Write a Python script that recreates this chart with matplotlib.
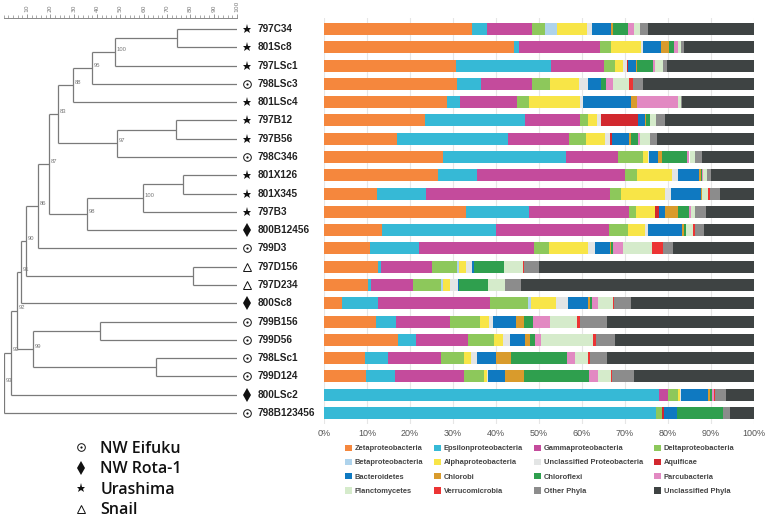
import matplotlib
matplotlib.use("Agg")
import matplotlib.pyplot as plt
from matplotlib.lines import Line2D
from matplotlib.patches import Patch
from matplotlib.legend_handler import HandlerTuple
import numpy as np

# samples, top to bottom (dendrogram leaf order)
samples = ["797C34", "801Sc8", "797LSc1", "798LSc3", "801LSc4", "797B12", "797B56",
           "798C346", "801X126", "801X345", "797B3", "800B12456", "799D3", "797D156",
           "797D234", "800Sc8", "799B156", "799D56", "798LSc1", "799D124", "800LSc2",
           "798B123456"]
sites = ["Urashima", "Urashima", "Urashima", "NW Eifuku", "Urashima", "Urashima", "Urashima",
         "NW Eifuku", "Urashima", "Urashima", "Urashima", "NW Rota-1", "NW Eifuku", "Snail",
         "Snail", "NW Rota-1", "NW Eifuku", "NW Eifuku", "NW Eifuku", "NW Eifuku", "NW Rota-1",
         "NW Eifuku"]
site_order = ["NW Eifuku", "NW Rota-1", "Urashima", "Snail"]

# relative abundance (%) per taxon, one value per sample
taxa = ["Zetaproteobacteria", "Epsilonproteobacteria", "Gammaproteobacteria", "Deltaproteobacteria",
        "Betaproteobacteria", "Alphaproteobacteria", "Unclassified Proteobacteria", "Aquificae",
        "Bacteroidetes", "Chlorobi", "Chloroflexi", "Parcubacteria",
        "Planctomycetes", "Verrucomicrobia", "Other Phyla", "Unclassified Phyla"]
zeta = [34.5, 44.3, 30.7, 31.0, 28.5, 23.5, 16.9, 27.7, 26.6, 12.3, 33.0, 13.4, 10.7, 12.5, 10.3, 4.1, 12.0, 17.3, 9.5, 9.7, 0, 0]
epsilon = [3.3, 1.1, 22.0, 5.5, 3.1, 23.3, 26.0, 28.5, 8.9, 11.5, 14.6, 26.5, 11.4, 0.8, 0.6, 8.5, 4.7, 4.1, 5.4, 6.8, 77.9, 77.1]
gamma = [10.5, 18.7, 12.4, 11.8, 13.3, 12.8, 14.0, 12.2, 34.5, 42.6, 23.4, 26.3, 26.7, 11.8, 9.8, 26.0, 12.6, 12.2, 12.4, 16.0, 2.2, 0]
delta = [3.1, 2.7, 2.6, 4.3, 2.7, 1.9, 4.0, 5.7, 2.9, 2.7, 1.6, 4.5, 3.6, 5.8, 6.6, 8.9, 7.0, 6.0, 5.2, 4.7, 2.3, 1.4]
beta = [2.9, 0, 0, 0, 0, 0, 0, 0, 0, 0, 0, 0, 0, 0.5, 0.4, 0.6, 0, 0, 0, 0, 0, 0]
alpha = [6.8, 6.9, 1.9, 6.6, 12.0, 2.1, 4.5, 1.3, 8.1, 10.3, 4.3, 3.9, 9.1, 1.6, 1.7, 5.9, 2.1, 2.0, 1.8, 0.6, 0.4, 0]
uncl_proteo = [1.2, 0.4, 0.9, 2.1, 0.6, 0.9, 1.0, 0.2, 1.4, 1.2, 0, 0.8, 1.6, 1.4, 1.7, 2.7, 0.8, 1.7, 1.3, 0.4, 0.3, 0]
aquificae = [0, 0, 0.2, 0, 0, 8.5, 0.6, 0, 0, 0, 0.9, 0, 0, 0, 0, 0, 0, 0, 0, 0, 0, 0.5]
bacteroidetes = [4.5, 4.3, 1.8, 3.1, 11.1, 1.7, 4.0, 2.0, 4.9, 7.0, 1.6, 7.9, 3.5, 0.4, 0.3, 4.8, 5.4, 3.5, 4.3, 4.0, 6.3, 3.2]
chlorobi = [0.4, 1.9, 0.4, 0, 1.5, 0.2, 0.5, 0.9, 0.3, 0.3, 3.0, 0.4, 0.2, 0, 0, 0.3, 1.8, 1.0, 3.7, 4.3, 0.3, 0]
chloroflexi = [3.6, 1.2, 3.6, 1.2, 0, 1.0, 1.5, 6.0, 0.3, 0, 2.6, 0.4, 0.5, 7.1, 6.7, 0.6, 2.3, 1.3, 12.9, 15.2, 0.5, 10.5]
parcu = [1.2, 0.9, 0.4, 1.7, 9.5, 0, 0.6, 0.5, 0.3, 0, 0.3, 0.2, 2.3, 0, 0, 1.4, 3.9, 1.4, 1.8, 2.0, 0.4, 0]
plancto = [1.6, 0.6, 1.9, 3.7, 0.7, 1.4, 2.2, 1.2, 0.8, 1.5, 0.9, 1.5, 6.6, 4.3, 3.9, 3.3, 6.2, 12.0, 3.1, 3.0, 0, 0]
verruco = [0, 0, 0, 0.9, 0, 0, 0, 0, 0, 0.3, 0, 0.4, 2.7, 0.2, 0, 0.3, 0.8, 0.8, 0.4, 0.3, 0.3, 0]
other = [1.7, 0.8, 1.0, 2.2, 0.3, 1.9, 1.6, 1.6, 0.9, 2.3, 2.7, 2.2, 2.2, 3.5, 3.7, 3.9, 6.2, 4.4, 3.9, 5.1, 2.6, 1.7]
uncl_phyla = [24.8, 16.3, 20.1, 25.9, 16.6, 20.9, 22.6, 12.2, 10.1, 8.1, 11.2, 11.6, 18.9, 50.2, 54.4, 28.7, 34.3, 32.3, 34.3, 27.9, 6.5, 5.6]

# dendrogram merges: (child a, child b, similarity, bootstrap); leaves are 0..21, nodes 22..
merges = [
    (0, 1, 74.3, None), (22, 2, 47.7, 100), (23, 3, 37.8, 95), (24, 4, 29.7, 88),
    (5, 6, 73.9, None), (26, 7, 48.6, 97), (25, 27, 23.3, 83),
    (8, 9, 76.8, None), (29, 10, 59.7, 100), (30, 11, 35.7, 98),
    (28, 31, 19.4, 87), (32, 12, 14.7, 86), (13, 14, 81.1, None),
    (33, 34, 9.6, 90), (35, 15, 7.4, 91), (16, 17, 41.3, None), (18, 19, 65.3, None),
    (37, 38, 12.6, 99), (36, 39, 5.7, 92), (40, 20, 3.1, 92), (41, 21, 0.0, 93),
]

series = [zeta, epsilon, gamma, delta, beta, alpha, uncl_proteo, aquificae,
          bacteroidetes, chlorobi, chloroflexi, parcu, plancto, verruco, other, uncl_phyla]
colors = ["#F5873D", "#36B9D6", "#C44B9C", "#8DC85B", "#AED3EC", "#F8E547", "#E3E5E5", "#D2282E",
          "#0F79C1", "#D99B2C", "#2F9F4E", "#E289C2", "#D5EBCB", "#EC3434", "#8C8C8C", "#3E4343"]

W, H = 773, 518
fig = plt.figure(figsize=(W / 100, H / 100), dpi=100)
ylim = (21.6, -0.6)
bottom = 1 - 424 / H
height = 406 / H

# ---- stacked bars ----
ax = fig.add_axes([324 / W, bottom, 430 / W, height])
y = np.arange(len(samples))
left = np.zeros(len(samples))
for vals, c in zip(series, colors):
    vals = np.array(vals)
    ax.barh(y, vals, left=left, height=0.66, color=c, linewidth=0, zorder=2)
    left += vals
ax.set_xlim(0, 100)
ax.set_ylim(*ylim)
ax.set_xticks(np.arange(0, 101, 10))
ax.set_xticklabels([f"{v}%" for v in range(0, 101, 10)])
ax.tick_params(axis="x", length=0, pad=3.3, labelsize=6.5, labelcolor="#555555")
for lab in ax.get_xticklabels():
    lab.set_fontfamily("Liberation Sans")
ax.set_yticks([])
ax.grid(axis="x", color="#e6e6e6", linewidth=0.8, zorder=0)
for s in ax.spines.values():
    s.set_visible(False)

# ---- dendrogram ----
axd = fig.add_axes([3.7 / W, bottom, (237 - 3.7) / W, height])
axd.set_xlim(0, 100)
axd.set_ylim(*ylim)
pos_x = {i: 100.0 for i in range(len(samples))}
pos_y = {i: float(i) for i in range(len(samples))}
lc = "#7a7a7a"
for k, (a, b, sim, boot) in enumerate(merges):
    node = len(samples) + k
    for ch in (a, b):
        axd.plot([pos_x[ch], sim], [pos_y[ch], pos_y[ch]], color=lc, lw=0.9, solid_capstyle="butt")
    axd.plot([sim, sim], [pos_y[a], pos_y[b]], color=lc, lw=0.9, solid_capstyle="butt")
    pos_x[node] = sim
    pos_y[node] = (pos_y[a] + pos_y[b]) / 2
    if boot is not None:
        axd.text(sim + 0.8, pos_y[node] - 0.15, str(boot), fontsize=4.2, color="#777777",
                 ha="left", va="center", family="Liberation Sans")

axd.xaxis.tick_top()
axd.set_xticks(np.arange(10, 101, 10))
axd.set_xticks(np.arange(0, 101, 2), minor=True)
axd.tick_params(axis="x", which="major", top=True, bottom=False, labeltop=True, labelbottom=False,
                length=3, width=0.6, color="#888888", labelrotation=90, labelsize=4.3,
                labelcolor="#777777", pad=1)
axd.tick_params(axis="x", which="minor", top=True, bottom=False, length=2, width=0.5, color="#888888")
axd.set_yticks([])
for name, s in axd.spines.items():
    s.set_visible(name == "top")
axd.spines["top"].set_color("#888888")
axd.spines["top"].set_linewidth(0.7)

# site symbols and sample names
site_marker = {
    "NW Eifuku": [dict(marker="o", ms=5.5, mfc="white", mec="#111111", mew=0.7),
                  dict(marker="o", ms=1.6, mfc="#111111", mec="#111111", mew=0)],
    "NW Rota-1": [dict(marker="d", ms=7, mfc="#111111", mec="#111111", mew=0)],
    "Urashima": [dict(marker="*", ms=6.5, mfc="#111111", mec="#111111", mew=0)],
    "Snail": [dict(marker="^", ms=6, mfc="white", mec="#111111", mew=0.7)],
}
for i, (name, site) in enumerate(zip(samples, sites)):
    for st in site_marker[site]:
        axd.plot([104.3], [i], linestyle="none", clip_on=False, **st)
    axd.text(109.0, i, name, fontsize=7.2, fontweight="bold", color="#222222",
             ha="left", va="center", family="Liberation Sans", clip_on=False)

# ---- taxon legend (row-wise, 4 columns) ----
ncol = 4
order = [r * ncol + c for c in range(ncol) for r in range(len(taxa) // ncol)]
handles = [Patch(facecolor=colors[i], edgecolor="none") for i in order]
labels = [taxa[i] for i in order]
leg = fig.legend(handles, labels, ncol=ncol, loc="upper left",
                 bbox_to_anchor=(345 / W, 1 - 444.5 / H), frameon=False,
                 prop={"family": "Liberation Sans", "weight": "bold", "size": 5.4},
                 handlelength=0.95, handleheight=0.95, handletextpad=0.35,
                 columnspacing=1.45, labelspacing=0.85, borderpad=0, borderaxespad=0)
for t in leg.get_texts():
    t.set_color("#444444")

# ---- site legend ----
site_handles = []
for site in site_order:
    parts = tuple(Line2D([], [], linestyle="none", **st) for st in site_marker[site])
    site_handles.append(parts)
leg2 = fig.legend(site_handles, site_order, loc="upper left",
                  bbox_to_anchor=(74 / W, 1 - 441 / H), frameon=False,
                  handler_map={tuple: HandlerTuple(ndivide=1, pad=0)},
                  prop={"family": "Open Sans", "weight": "semibold", "size": 11.5},
                  handlelength=0.9, handletextpad=0.75, labelspacing=0.28,
                  borderpad=0, borderaxespad=0)
for t in leg2.get_texts():
    t.set_color("#111111")

fig.savefig("out.png", dpi=100)
